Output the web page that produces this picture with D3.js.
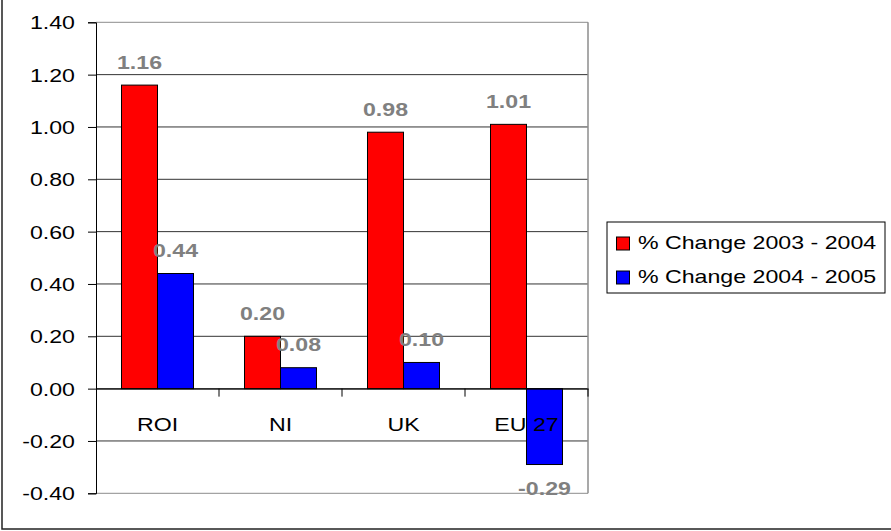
<!DOCTYPE html>
<html>
<head>
<meta charset="utf-8">
<script src="https://cdn.jsdelivr.net/npm/d3@7"></script>
<style>
  html, body { margin: 0; padding: 0; background: #fff; }
  svg { display: block; }
  text { font-family: "Liberation Sans", Arial, sans-serif; }
</style>
</head>
<body>
<svg id="chart" width="891" height="531"></svg>
<script>
// ---- data ----
const categories = ["ROI", "NI", "UK", "EU 27"];
const seriesNames = ["% Change 2003 - 2004", "% Change 2004 - 2005"];
const change0304 = [1.16, 0.20, 0.98, 1.01];
const change0405 = [0.44, 0.08, 0.10, -0.29];
const seriesColors = ["#ff0000", "#0000ff"];
const yTickValues = [-0.4, -0.2, 0.0, 0.2, 0.4, 0.6, 0.8, 1.0, 1.2, 1.4];
const yTickLabels = ["-0.40", "-0.20", "0.00", "0.20", "0.40", "0.60", "0.80", "1.00", "1.20", "1.40"];

const seriesValues = [change0304, change0405];
const rows = categories.map((c, i) => ({
  cat: c,
  vals: seriesNames.map((s, j) => ({ series: s, idx: j, value: seriesValues[j][i] }))
}));

// ---- layout ----
const svg = d3.select("#chart");
const plot = { left: 96, right: 588, top: 22.3, bottom: 493.3 };
const SX = 1.245;          // horizontal stretch of the original text
const FS = 18.6;

const y = d3.scaleLinear().domain([-0.4, 1.4]).range([plot.bottom, plot.top]);
const x0 = d3.scaleBand().domain(categories).range([plot.left, plot.right])
  .paddingInner(0.4146).paddingOuter(0.2073);
const x1 = d3.scaleBand().domain(seriesNames).range([0, x0.bandwidth()]);

// outer frame (only left & bottom visible)
svg.append("rect").attr("x", 2).attr("y", -10).attr("width", 900).attr("height", 539)
  .attr("fill", "none").attr("stroke", "#222").attr("stroke-width", 1.5);

// gridlines
svg.append("g").selectAll("line").data(yTickValues).join("line")
  .attr("x1", plot.left).attr("x2", plot.right)
  .attr("y1", d => y(d)).attr("y2", d => y(d))
  .attr("stroke", (d, i) => (i === 0 || i === yTickValues.length - 1) ? "#8c8c8c" : "#333")
  .attr("stroke-width", 1);
// plot area right border
svg.append("line").attr("x1", plot.right).attr("x2", plot.right)
  .attr("y1", plot.top).attr("y2", plot.bottom)
  .attr("stroke", "#8c8c8c").attr("stroke-width", 1.5);

// y axis
const yAxis = svg.append("g").attr("transform", `translate(${plot.left},0)`)
  .call(d3.axisLeft(y).tickValues(yTickValues).tickSize(8)
    .tickFormat((d, i) => yTickLabels[i]));
yAxis.select(".domain").attr("stroke", "#000");
yAxis.selectAll(".tick line").attr("stroke", "#000");
yAxis.selectAll(".tick text")
  .attr("x", null).attr("dy", null).attr("y", null)
  .attr("transform", `translate(-21,6.6) scale(${SX},1)`)
  .attr("font-size", FS).attr("fill", "#000")
  .style("font-family", "'Liberation Sans', Arial, sans-serif");

// bars
const groups = svg.append("g").selectAll("g").data(rows).join("g")
  .attr("transform", d => `translate(${x0(d.cat)},0)`);
groups.selectAll("rect").data(d => d.vals).join("rect")
  .attr("x", d => x1(d.series))
  .attr("width", x1.bandwidth())
  .attr("y", d => y(Math.max(0, d.value)))
  .attr("height", d => Math.abs(y(d.value) - y(0)))
  .attr("fill", d => seriesColors[d.idx])
  .attr("stroke", "#000").attr("stroke-width", 1);

// x axis line at zero + ticks between categories
const xAxis = svg.append("g").attr("transform", `translate(0,${y(0)})`)
  .call(d3.axisBottom(x0).tickSize(0).tickPadding(0));
xAxis.select(".domain").attr("stroke", "#000");
const bounds = categories.map(c => x0(c) - x0.step() * x0.paddingInner() / 2).slice(1).concat([plot.right]);
xAxis.selectAll(".sep").data(bounds).join("line").attr("class", "sep")
  .attr("x1", d => d).attr("x2", d => d).attr("y1", 0).attr("y2", 8)
  .attr("stroke", "#000");
xAxis.selectAll(".tick text")
  .attr("y", null).attr("dy", null)
  .attr("transform", `translate(0,42.7) scale(${SX},1)`)
  .attr("font-size", FS).attr("fill", "#000")
  .style("font-family", "'Liberation Sans', Arial, sans-serif");
xAxis.raise();

// data labels
groups.selectAll("text.lbl").data(d => d.vals).join("text").attr("class", "lbl")
  .attr("text-anchor", "middle")
  .attr("font-size", FS).attr("font-weight", "bold").attr("fill", "#808080")
  .attr("transform", d => {
    const cx = x1(d.series) + x1.bandwidth() / 2;
    const by = d.value >= 0 ? y(d.value) - 16.5 : y(d.value) + 30.5;
    return `translate(${cx},${by}) scale(${SX},1)`;
  })
  .text(d => d.value.toFixed(2));

// legend
const lg = svg.append("g");
lg.append("rect").attr("x", 607).attr("y", 222).attr("width", 278).attr("height", 71)
  .attr("fill", "#fff").attr("stroke", "#000").attr("stroke-width", 1);
const items = lg.selectAll("g.item").data(seriesNames).join("g").attr("class", "item")
  .attr("transform", (d, i) => `translate(0,${i * 34})`);
items.append("rect").attr("x", 616.5).attr("y", 237).attr("width", 13).attr("height", 13)
  .attr("fill", (d, i) => seriesColors[i]).attr("stroke", "#000").attr("stroke-width", 1);
items.append("text")
  .attr("transform", `translate(638,249) scale(${SX},1)`)
  .attr("font-size", FS).attr("fill", "#000")
  .text(d => d);
</script>
</body>
</html>
